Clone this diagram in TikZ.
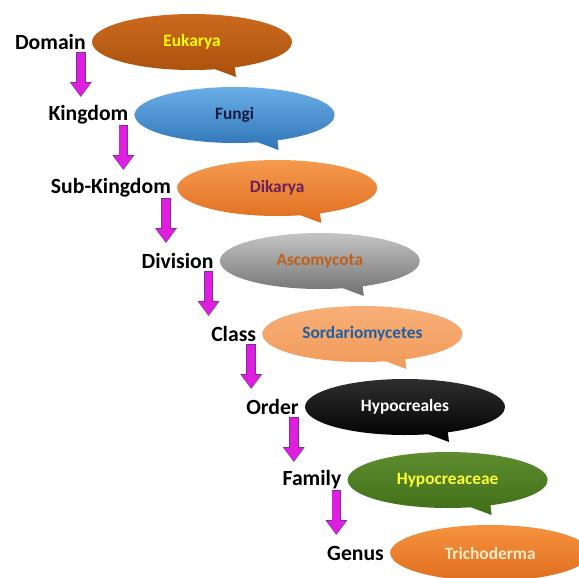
\documentclass[tikz,border=0pt]{standalone}
\usepackage{fontspec}
\setmainfont{Carlito}
\usetikzlibrary{arrows.meta,positioning,shapes.callouts}

\definecolor{eukTop}{HTML}{CC6A1E}
\definecolor{eukBot}{HTML}{A8500C}
\definecolor{funTop}{HTML}{6AAEE8}
\definecolor{funBot}{HTML}{2E74B5}
\definecolor{dikTop}{HTML}{F59A4E}
\definecolor{dikBot}{HTML}{E06E20}
\definecolor{ascTop}{HTML}{C4C4C4}
\definecolor{ascBot}{HTML}{707070}
\definecolor{sorTop}{HTML}{F7AF78}
\definecolor{sorBot}{HTML}{F29A5A}
\definecolor{hypTop}{HTML}{2E2E2E}
\definecolor{hypBot}{HTML}{000000}
\definecolor{famTop}{HTML}{5E8C2E}
\definecolor{famBot}{HTML}{3F6E18}
\definecolor{triTop}{HTML}{F5923E}
\definecolor{triBot}{HTML}{DE6A1C}
\definecolor{eukText}{HTML}{FFFF00}
\definecolor{funText}{HTML}{1A1A40}
\definecolor{dikText}{HTML}{6B1F5A}
\definecolor{ascText}{HTML}{C0601A}
\definecolor{sorText}{HTML}{1F5FA0}
\definecolor{hypText}{HTML}{FFFFFF}
\definecolor{famText}{HTML}{FFFF33}
\definecolor{triText}{HTML}{FFEBC8}
\definecolor{arrowFill}{HTML}{E01EE0}
\definecolor{arrowEdge}{HTML}{7A2FA0}

\begin{document}
\begin{tikzpicture}[x=0.03cm, y=0.03cm,
  taxon/.style={ellipse callout, minimum width=6cm, minimum height=1.68cm,
    inner sep=0pt, callout pointer arc=12,
    font=\fontsize{14.8}{16}\selectfont\bfseries},
  rank/.style={inner sep=0pt, font=\fontsize{18.5}{20}\selectfont\bfseries},
  flow/.style={draw=arrowFill, line width=6.6pt,
    -{Triangle[width=15.4pt,length=11pt]}, shorten >=0.9pt, shorten <=0.7pt,
    preaction={draw=arrowEdge, line width=8.2pt, shorten >=0pt, shorten <=0pt,
      -{Triangle[width=17.6pt,length=12.6pt]}}}]
  \path[use as bounding box, clip] (0,0) rectangle (579,-577);

  % bubbles and rank labels
  \foreach \i/\rk/\tx/\cname in {1/Domain/Eukarya/euk, 2/Kingdom/Fungi/fun,
      3/Sub-Kingdom/Dikarya/dik, 4/Division/Ascomycota/asc,
      5/Class/Sordariomycetes/sor, 6/Order/Hypocreales/hyp,
      7/Family/Hypocreaceae/fam, 8/Genus/Trichoderma/tri} {
    \pgfmathsetmacro{\cx}{192+42.6*(\i-1)}
    \pgfmathsetmacro{\cy}{-42-73*(\i-1)}
    \pgfmathsetmacro{\px}{\cx+44}
    \pgfmathsetmacro{\py}{\cy-35}
    \node[taxon, callout absolute pointer={(\px,\py)},
      top color=\cname Top, bottom color=\cname Bot, text=\cname Text]
      (b\i) at (\cx,\cy) {\tx};
    \node[rank, left=5pt of b\i] (r\i) {\rk};
    \coordinate (bot\i) at ([shift={(-11,-10)}]b\i.west);
    \coordinate (top\i) at ([shift={(0,18)}]b\i.west);
  }

  % arrows between ranks
  \foreach \i [evaluate=\i as \j using int(\i+1)] in {1,...,7}
    \draw[flow] (bot\i) -- (bot\i |- top\j);
\end{tikzpicture}
\end{document}
